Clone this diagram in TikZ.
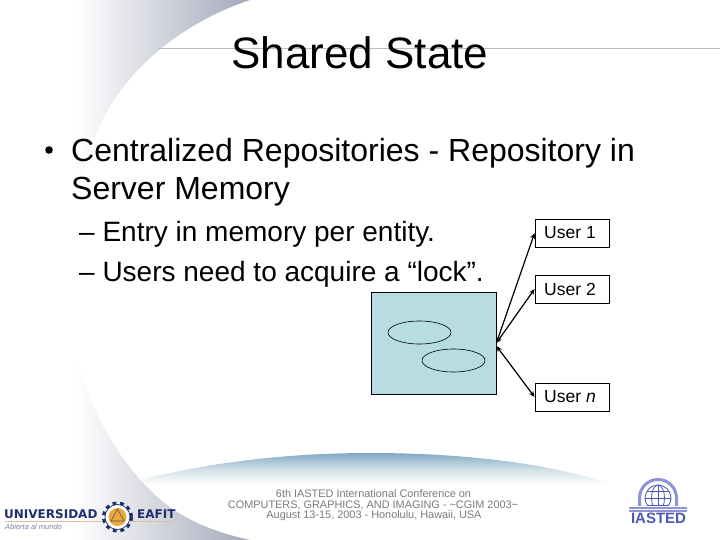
\documentclass[tikz,border=0pt]{standalone}
\usepackage{fontspec}
\setmainfont{Liberation Sans}
\newfontfamily\wideb{DejaVu Sans}
\usetikzlibrary{arrows.meta,shapes.geometric}
\definecolor{repofill}{HTML}{B7DDE3}
\definecolor{swooshtop}{HTML}{7FA8C4}
\definecolor{swooshb}{HTML}{A5C2D4}
\definecolor{swooshc}{HTML}{D5E3EA}
\definecolor{bandgrey}{HTML}{A4A9BA}
\definecolor{rulegrey}{HTML}{BDBDBD}
\definecolor{confgrey}{HTML}{7C7C7C}
\definecolor{eafitblue}{HTML}{1F2F6E}
\definecolor{eafitgold}{HTML}{E9A93B}
\definecolor{iastedblue}{HTML}{4A58B8}
\definecolor{iastedlight}{HTML}{8E93D6}
\pgfdeclarehorizontalshading{bandshade}{100bp}{color(0bp)=(white); color(40bp)=(white); color(75bp)=(bandgrey); color(100bp)=(bandgrey)}
\pgfdeclareverticalshading{swooshshade}{100bp}{color(0bp)=(white); color(34bp)=(white); color(53bp)=(swooshc); color(66bp)=(swooshb); color(75bp)=(swooshtop); color(100bp)=(swooshtop)}
\newcommand{\utext}[1]{\hspace*{-4pt}\raisebox{-1pt}{#1}}
\tikzset{
  x=1pt,y=-1pt,
  txt/.style={inner sep=0pt,anchor=base west,text=black},
  ttl/.style={inner sep=0pt,anchor=base,font=\fontsize{44}{50}\selectfont},
  lvla/.style={txt,font=\fontsize{32}{36}\selectfont},
  lvlb/.style={txt,font=\fontsize{28}{32}\selectfont},
  userbox/.style={draw=black,line width=0.8pt,fill=white,minimum width=74pt,minimum height=28pt,inner sep=0pt,font=\fontsize{17.5}{19}\selectfont},
  memo/.style={draw=black,line width=0.6pt,ellipse,fill=repofill,minimum width=63pt,minimum height=23pt,inner sep=0pt},
  link/.style={line width=1.2pt,{Stealth[length=6pt,width=5pt]}-{Stealth[length=6pt,width=5pt]}},
  conf/.style={inner sep=0pt,anchor=base,text=confgrey,font=\fontsize{10.9}{12}\selectfont},
  logotxt/.style={inner sep=0pt,anchor=base west,text=eafitblue,font=\wideb\bfseries\fontsize{12}{13}\selectfont},
  globeline/.style={iastedblue,line width=0.8pt},
}
\begin{document}
\begin{tikzpicture}
\useasboundingbox (0,0) rectangle (720,540);
\fill[white] (0,0) rectangle (720,540);
% grey band
\path[shading=bandshade]
  (0,0) -- (250,0) .. controls (190,20) and (135,60) .. (105,115)
  .. controls (80,165) and (62,240) .. (70,310)
  .. controls (76,375) and (100,440) .. (150,490)
  .. controls (175,515) and (205,530) .. (250,540) -- (0,540) -- cycle;
% swoosh
\path[shading=swooshshade]
  (140,480) .. controls (210,462) and (290,453) .. (370,453)
  .. controls (470,453) and (560,465) .. (615,486)
  -- (615,492) -- (165,492) -- cycle;
% rule
\draw[rulegrey,line width=0.8pt] (158,48) -- (720,48);
% text
\node[ttl] (title) at (360,69) {Shared State};
\fill[black] (49,150) circle (3.8);
\node[lvla] (l1) at (71,162) {Centralized Repositories - Repository in};
\node[lvla] (l2) at (71,200) {Server Memory};
\node[lvlb] (s1) at (79,241) {– Entry in memory per entity.};
\node[lvlb] (s2) at (79,281) {– Users need to acquire a “lock”.};
% repository
\node[draw=black,line width=0.8pt,fill=repofill,minimum width=124.5pt,minimum height=102pt,inner sep=0pt] (repo) at (433.75,343) {};
\node[memo] (e1) at (419.5,332.5) {};
\node[memo] (e2) at (453.5,360.5) {};
\node[userbox] (u1) at (572,233) {\utext{User 1}};
\node[userbox] (u2) at (572,289) {\utext{User 2}};
\node[userbox] (un) at (572,397) {\utext{User \textit{n}}};
\coordinate (hub) at (repo.east);
\coordinate (hubn) at ([yshift=-3pt]repo.east);
\draw[link] (hub) -- (u1.west);
\draw[link] (hub) -- (u2.west);
\draw[link] (hubn) -- (un.west);
% conference text
\node[conf] (c1) at (373.5,497) {6th IASTED International Conference on};
\node[conf] (c2) at (373,508) {COMPUTERS, GRAPHICS, AND IMAGING - \textasciitilde CGIM 2003\textasciitilde};
\node[conf] (c3) at (374,518) {August 13-15, 2003 - Honolulu, Hawaii, USA};
% EAFIT logo
\draw[brown!50!white,line width=0.7pt] (5,521.7) -- (175,521.7);
\node[logotxt] (uni) at (4,518.5) {UNIVERSIDAD};
\node[logotxt] (eaf) at (137,518.5) {EAFIT};
\node[inner sep=0pt,anchor=base west,text=eafitblue!60!white,font=\itshape\fontsize{7.5}{8}\selectfont] (abi) at (5,529) {Abierta al mundo};
\fill[white] (117.5,517) circle (13);
\draw[eafitblue,line width=3pt,dash pattern=on 3.8pt off 3.8pt] (117.5,517) circle (14);
\draw[eafitblue,line width=0.7pt] (117.5,517) circle (12.5);
\fill[eafitgold] (117.5,517) circle (9);
\draw[eafitblue!70!eafitgold,line width=0.6pt,line join=round] (117.5,509) -- (111,521) -- (124,521) -- cycle;
% IASTED logo
\draw[iastedlight,line width=3pt] (639.5,507) -- (639.5,498) arc[start angle=180,end angle=360,radius=18.5] -- (676.5,507);
\draw[globeline] (658,498) circle (13);
\draw[globeline] (658,498) ellipse (6.5 and 13);
\draw[globeline] (658,485) -- (658,511);
\draw[globeline] (645,498) -- (671,498);
\draw[globeline] (647,491) -- (669,491);
\draw[globeline] (647,505) -- (669,505);
\fill[white] (629,506) rectangle (687,513);
\draw[iastedlight,line width=1.2pt] (629,508) -- (687,508);
\draw[iastedlight,line width=1.2pt] (629,511) -- (687,511);
\node[inner sep=0pt,anchor=base,text=iastedblue,font=\bfseries\fontsize{15}{16}\selectfont] (ias) at (658.5,523.5) {IASTED};
\end{tikzpicture}
\end{document}
